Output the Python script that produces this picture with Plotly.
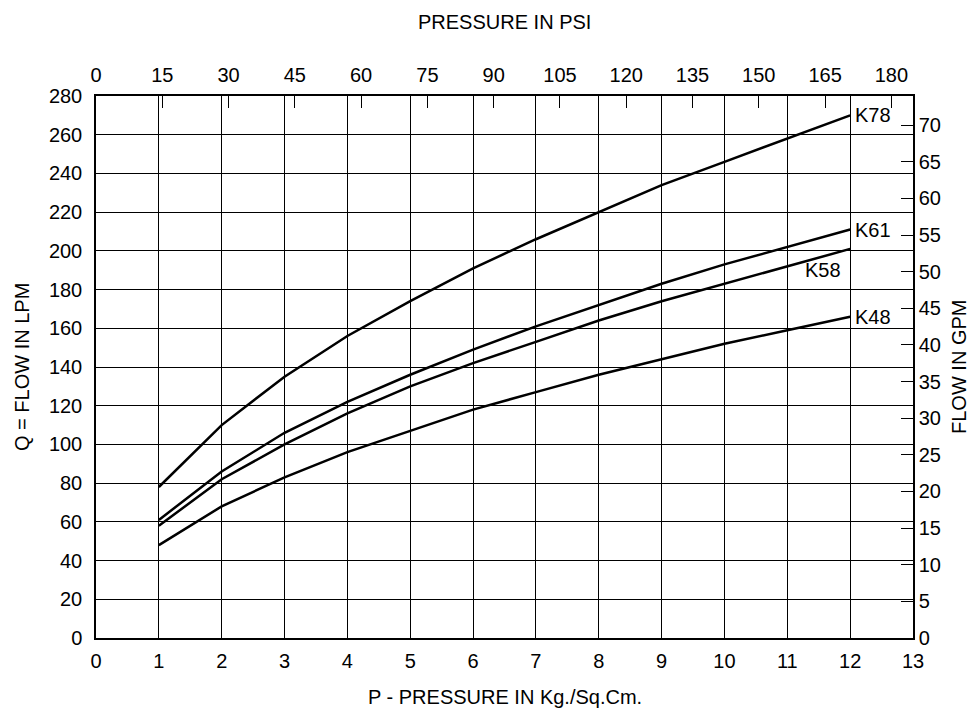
import plotly.graph_objects as go

pressure_kg = [1, 2, 3, 4, 5, 6, 7, 8, 9, 10, 11, 12]
k78 = [78, 110, 135, 156, 174, 191, 206, 220, 234, 246, 258, 270]
k61 = [61, 86, 106, 122, 136, 149, 161, 172, 183, 193, 202, 211]
k58 = [58, 82, 100, 116, 130, 142, 153, 164, 174, 183, 192, 201]
k48 = [48, 68, 83, 96, 107, 118, 127, 136, 144, 152, 159, 166]
series = {"K78": k78, "K61": k61, "K58": k58, "K48": k48}

psi_ticks = list(range(0, 181, 15))
gpm_ticks = list(range(0, 71, 5))
lpm_ticks = list(range(0, 281, 20))
kg_ticks = list(range(0, 14))

PSI_PER_KG = 14.223
LPM_PER_GPM = 3.785

FONT = "Liberation Sans, Arial, sans-serif"
FS = 20

fig = go.Figure()
for name, vals in series.items():
    fig.add_trace(go.Scatter(x=pressure_kg, y=vals, mode="lines", name=name,
                             line=dict(color="black", width=2.5), showlegend=False,
                             hoverinfo="x+y"))

# invisible traces to activate secondary axes
fig.add_trace(go.Scatter(x=[0], y=[0], xaxis="x2", yaxis="y", mode="markers",
                         marker=dict(opacity=0), showlegend=False, hoverinfo="skip"))
fig.add_trace(go.Scatter(x=[0], y=[0], xaxis="x", yaxis="y2", mode="markers",
                         marker=dict(opacity=0), showlegend=False, hoverinfo="skip"))

# curve labels at the end of lines
for name in ["K78", "K61", "K48"]:
    fig.add_annotation(x=pressure_kg[-1], y=series[name][-1], xref="x", yref="y", text=name,
                       showarrow=False, xanchor="left", yanchor="middle", xshift=3,
                       font=dict(size=FS, color="black", family=FONT))
fig.add_annotation(x=11.57, y=190, xref="x", yref="y", text="K58", showarrow=False,
                   xanchor="center", yanchor="middle",
                   font=dict(size=FS, color="black", family=FONT))

fig.update_layout(
    width=971, height=701,
    margin=dict(l=88, r=66, t=88, b=71),
    paper_bgcolor="white", plot_bgcolor="white",
    font=dict(family=FONT, size=FS, color="black"),
    xaxis=dict(range=[0, 13], tickvals=kg_ticks, showgrid=True, gridcolor="black",
               gridwidth=1, zeroline=False, showline=True, linecolor="black", linewidth=1.5,
               ticks="", tickfont=dict(size=FS), ticklabelstandoff=4, fixedrange=True,
               automargin=False),
    xaxis2=dict(range=[0, 13 * PSI_PER_KG], tickvals=psi_ticks, overlaying="x", side="top",
                showgrid=False, zeroline=False, showline=True, linecolor="black", linewidth=1.5,
                ticks="inside", ticklen=12, tickcolor="black", tickwidth=1,
                tickfont=dict(size=FS), ticklabelstandoff=4, automargin=False),
    yaxis=dict(range=[0, 280], tickvals=lpm_ticks, showgrid=True, gridcolor="black",
               gridwidth=1, zeroline=False, showline=True, linecolor="black", linewidth=1.5,
               ticks="", tickfont=dict(size=FS), ticklabelstandoff=8, automargin=False),
    yaxis2=dict(range=[0, 280 / LPM_PER_GPM], tickvals=gpm_ticks, overlaying="y", side="right",
                showgrid=False, zeroline=False, showline=True, linecolor="black", linewidth=1.5,
                ticks="inside", ticklen=12, tickcolor="black", tickwidth=1,
                tickfont=dict(size=FS), automargin=False),
)

common = dict(xref="paper", yref="paper", showarrow=False, xanchor="center",
              yanchor="middle", font=dict(size=FS, family=FONT))
fig.add_annotation(text="PRESSURE IN PSI", x=0.5, y=1, yshift=74, **common)
fig.add_annotation(text="P - PRESSURE IN Kg./Sq.Cm.", x=0.5, y=0, yshift=-59, **common)
fig.add_annotation(text="Q = FLOW IN LPM", x=0, y=0.5, xshift=-74, textangle=-90, **common)
fig.add_annotation(text="FLOW IN GPM", x=1, y=0.5, xshift=46, textangle=-90, **common)

fig.write_html("out.html")
